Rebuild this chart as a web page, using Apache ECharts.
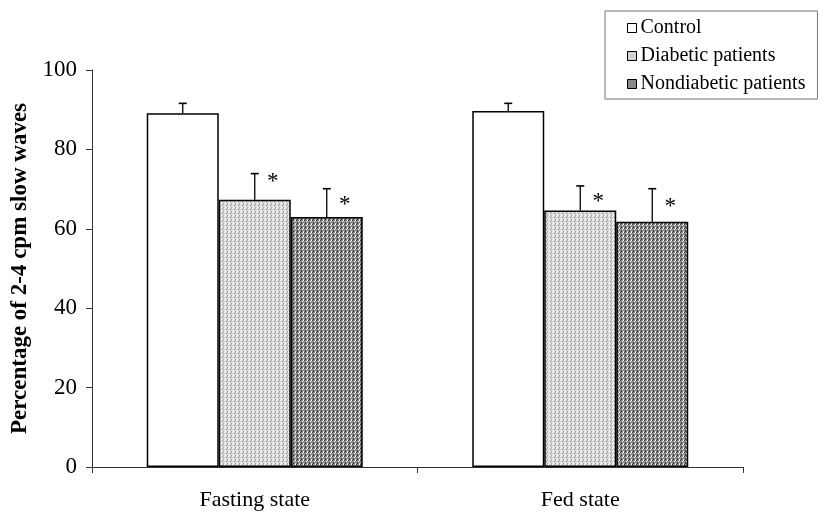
<!DOCTYPE html>
<html>
<head>
<meta charset="utf-8">
<script src="https://cdn.jsdelivr.net/npm/echarts@6/dist/echarts.min.js"></script>
<style>html,body{margin:0;padding:0;background:#fff}#c{width:818px;height:512px}</style>
</head>
<body>
<div id="c"></div>
<script>
const categories = ['Fasting state', 'Fed state'];
const seriesNames = ['Control', 'Diabetic patients', 'Nondiabetic patients'];
const controlValues = [89.1, 89.7];
const diabeticValues = [67.3, 64.6];
const nondiabeticValues = [63.0, 61.8];
const controlErr = [2.5, 1.9];
const diabeticErr = [6.6, 6.2];
const nondiabeticErr = [7.1, 8.3];
// significance markers: [category index, series index, y position of marker]
const asterisks = [[0, 1, 73.1], [0, 2, 67.3], [1, 1, 68.1], [1, 2, 66.8]];
const yTicks = [0, 20, 40, 60, 80, 100];

const FONT = 'Liberation Serif';
const BAR_W = 72;

function makePattern(dark) {
  const c = document.createElement('canvas');
  c.width = 4; c.height = 4;
  const ctx = c.getContext('2d');
  const base = dark ? '#8e8e8e' : '#d6d6d6';
  ctx.fillStyle = base; ctx.fillRect(0, 0, 4, 4);
  const pts = dark
    ? [[0,0,'#3a3a3a'],[2,1,'#e8e8e8'],[1,2,'#555'],[3,3,'#dcdcdc'],[3,0,'#fff'],[1,3,'#222']]
    : [[0,0,'#fff'],[2,1,'#9a9a9a'],[1,2,'#f4f4f4'],[3,3,'#aaaaaa'],[3,0,'#b0b0b0'],[1,3,'#fff']];
  pts.forEach(p => { ctx.fillStyle = p[2]; ctx.fillRect(p[0], p[1], 1, 1); });
  return c;
}
const fills = ['#ffffff', {image: makePattern(false), repeat: 'repeat'}, {image: makePattern(true), repeat: 'repeat'}];
const legendFills = ['#ffffff', '#cfcfcf', '#8a8a8a'];

const values = [controlValues, diabeticValues, nondiabeticValues];
const errs = [controlErr, diabeticErr, nondiabeticErr];
const offsets = [-BAR_W, 0, BAR_W];

const errData = [];
for (let s = 0; s < 3; s++) for (let i = 0; i < categories.length; i++) errData.push([i, values[s][i], errs[s][i], s]);

const chart = echarts.init(document.getElementById('c'), null, {renderer: 'canvas'});
const barSeries = seriesNames.map((n, s) => ({
  name: n, type: 'bar', data: values[s], barWidth: BAR_W, barGap: '0%',
  itemStyle: {color: fills[s], borderColor: '#000', borderWidth: 1.5},
  z: 2
}));
chart.setOption({
  animation: false,
  backgroundColor: '#fff',
  textStyle: {fontFamily: FONT, color: '#000'},
  grid: {left: 92, right: 75, top: 70, bottom: 45, containLabel: false},
  legend: {
    orient: 'vertical', left: 605, top: 11,
    data: seriesNames.map((n, s) => ({name: n, itemStyle: {color: legendFills[s], borderColor: '#000', borderWidth: 1}})),
    itemWidth: 9, itemHeight: 9, itemGap: 8,
    icon: 'rect',
    padding: [7, 12, 5, 22],
    borderColor: '#777', borderWidth: 1,
    textStyle: {fontFamily: FONT, fontSize: 20, color: '#000', padding: [0, 0, 0, -1]}
  },
  xAxis: {
    type: 'category', data: categories,
    axisLine: {lineStyle: {color: '#333', width: 1}},
    axisTick: {show: true, length: 6, lineStyle: {color: '#333'}},
    axisLabel: {fontFamily: FONT, fontSize: 22, color: '#000', margin: 22}
  },
  yAxis: {
    type: 'value', min: 0, max: 100, interval: 20,
    name: 'Percentage of 2-4 cpm slow waves', nameLocation: 'middle', nameGap: 60,
    nameTextStyle: {fontFamily: FONT, fontSize: 23, fontWeight: 'bold', color: '#000'},
    axisLine: {show: true, lineStyle: {color: '#333', width: 1}},
    axisTick: {show: true, length: 6, lineStyle: {color: '#333'}},
    axisLabel: {fontFamily: FONT, fontSize: 23, color: '#000', margin: 15,
      formatter: v => yTicks.indexOf(v) >= 0 ? String(v) : ''},
    splitLine: {show: false}
  },
  series: barSeries.concat([
    {
      type: 'custom', name: 'err', data: errData, z: 3, silent: true,
      renderItem: (params, api) => {
        const i = api.value(0), top = api.value(1), e = api.value(2), s = api.value(3);
        const p0 = api.coord([i, top]);
        const p1 = api.coord([i, top + e]);
        const x = p0[0] + offsets[s];
        return {type: 'group', children: [
          {type: 'line', shape: {x1: x, y1: p0[1], x2: x, y2: p1[1]}, style: {stroke: '#000', lineWidth: 1.3}},
          {type: 'line', shape: {x1: x - 4, y1: p1[1], x2: x + 4, y2: p1[1]}, style: {stroke: '#000', lineWidth: 1.6}}
        ]};
      }
    },
    {
      type: 'custom', name: 'sig', data: asterisks, z: 3, silent: true,
      renderItem: (params, api) => {
        const i = api.value(0), s = api.value(1), y = api.value(2);
        const p = api.coord([i, y]);
        return {type: 'text', style: {text: '*', x: p[0] + offsets[s] + 18, y: p[1] + 5,
          fontFamily: FONT, fontSize: 23, fill: '#000', align: 'center', verticalAlign: 'middle'}};
      }
    }
  ])
});
</script>
</body>
</html>
